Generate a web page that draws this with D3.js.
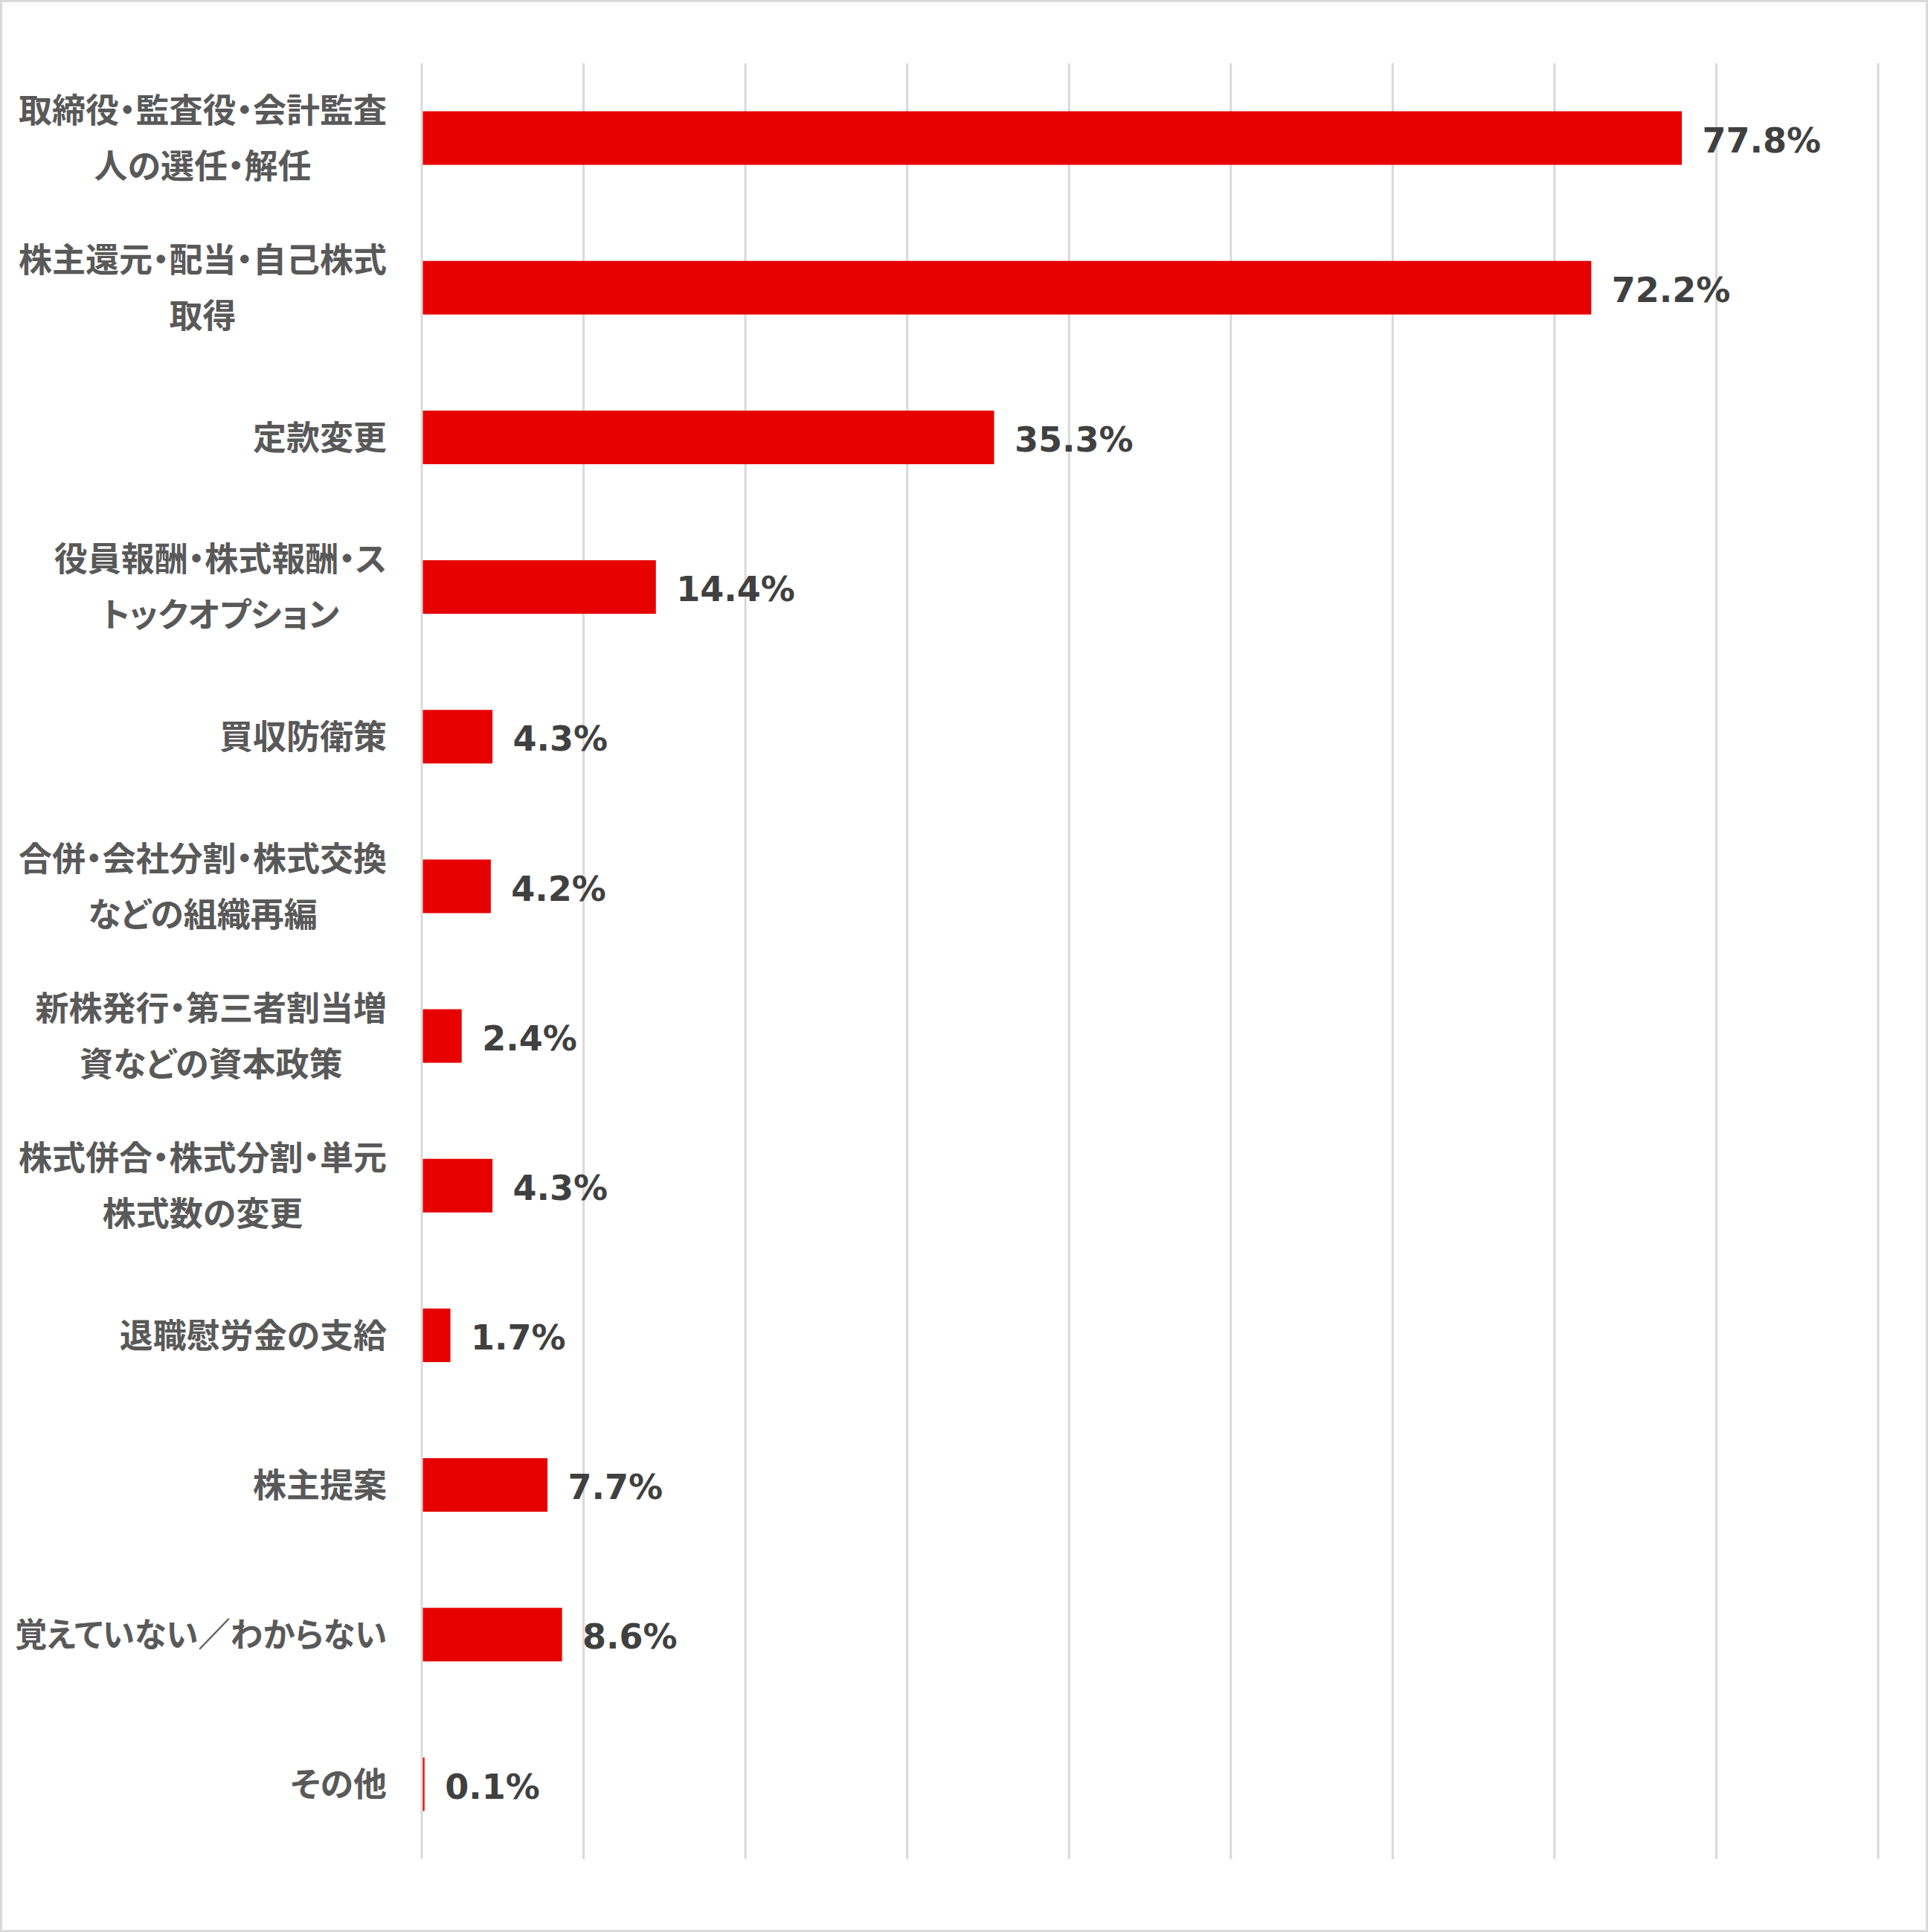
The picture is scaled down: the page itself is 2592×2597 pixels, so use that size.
<!DOCTYPE html>
<html>
<head>
<meta charset="utf-8">
<script src="https://cdn.jsdelivr.net/npm/d3@7"></script>
<style>
  body { margin: 0; background: #fff; }
  svg { display: block; }
</style>
</head>
<body>
<div id="chart"></div>
<script>
// category labels, already split the way the chart wraps them
const labelLines = [
  ["取締役・監査役・会計監査", "人の選任・解任"],
  ["株主還元・配当・自己株式", "取得"],
  ["定款変更"],
  ["役員報酬・株式報酬・ス", "トックオプション"],
  ["買収防衛策"],
  ["合併・会社分割・株式交換", "などの組織再編"],
  ["新株発行・第三者割当増", "資などの資本政策"],
  ["株式併合・株式分割・単元", "株式数の変更"],
  ["退職慰労金の支給"],
  ["株主提案"],
  ["覚えていない／わからない"],
  ["その他"]
];
const values = [77.8, 72.2, 35.3, 14.4, 4.3, 4.2, 2.4, 4.3, 1.7, 7.7, 8.6, 0.1];
const gridTicks = [0, 10, 20, 30, 40, 50, 60, 70, 80, 90];

const W = 2592, H = 2597;
const gridW = 3;
const labelRight = 520;
const labelMaxW = 500; // wrapped label width, wider lines get squeezed

const svg = d3.select("#chart").append("svg")
  .attr("width", W)
  .attr("height", H);

// outer frame
svg.append("rect")
  .attr("x", 1.5).attr("y", 1.5)
  .attr("width", W - 3).attr("height", H - 3)
  .attr("fill", "#fff")
  .attr("stroke", "#d9d9d9")
  .attr("stroke-width", 3);

const x = d3.scaleLinear().domain([0, 90]).range([567, 2525]);
const y = d3.scaleBand()
  .domain(d3.range(values.length))
  .range([85, 2499])
  .paddingInner(0.642)
  .paddingOuter(0.321);

// vertical gridlines
svg.append("g")
  .selectAll("line")
  .data(gridTicks)
  .join("line")
  .attr("x1", d => x(d)).attr("x2", d => x(d))
  .attr("y1", y.range()[0]).attr("y2", y.range()[1])
  .attr("stroke", "#d9d9d9")
  .attr("stroke-width", gridW);

// bars
svg.append("g")
  .selectAll("rect")
  .data(values)
  .join("rect")
  .attr("x", x(0) + gridW / 2)
  .attr("y", (d, i) => y(i))
  .attr("width", d => x(d) - x(0))
  .attr("height", y.bandwidth())
  .attr("fill", "#e60000");

// value labels
svg.append("g")
  .selectAll("text")
  .data(values)
  .join("text")
  .attr("x", d => x(d) + 29)
  .attr("y", (d, i) => y(i) + y.bandwidth() / 2)
  .attr("dy", "0.07em")
  .attr("dominant-baseline", "central")
  .attr("font-family", "'DejaVu Sans', Verdana, sans-serif")
  .attr("font-weight", "bold")
  .attr("font-size", 46)
  .attr("fill", "#404040")
  .text(d => d.toFixed(1) + "%");

// category labels: block right aligned, lines centred inside the block
const lineH = 75;
const cats = svg.append("g")
  .selectAll("g")
  .data(labelLines)
  .join("g");

cats.each(function (lines, i) {
  const g = d3.select(this);
  const cy = y(i) + y.bandwidth() / 2;
  const off = (lines.length - 1) * lineH / 2;
  const texts = lines.map((s, k) => g.append("text")
    .attr("x", labelRight)
    .attr("y", cy - off + k * lineH)
    .attr("dy", "-0.06em")
    .attr("text-anchor", "end")
    .attr("dominant-baseline", "central")
    .attr("font-family", "'Noto Sans CJK JP', 'Noto Sans', sans-serif")
    .attr("font-weight", "bold")
    .attr("font-size", 45)
    .style("font-feature-settings", "'palt'")
    .attr("fill", "#595959")
    .text(s));
  const widths = texts.map(t => {
    let w = t.node().getComputedTextLength();
    if (w > labelMaxW) {
      t.attr("textLength", labelMaxW).attr("lengthAdjust", "spacingAndGlyphs");
      w = labelMaxW;
    }
    return w;
  });
  const maxW = d3.max(widths);
  texts.forEach((t, k) => t.attr("x", labelRight - (maxW - widths[k]) / 2));
});
</script>
</body>
</html>
